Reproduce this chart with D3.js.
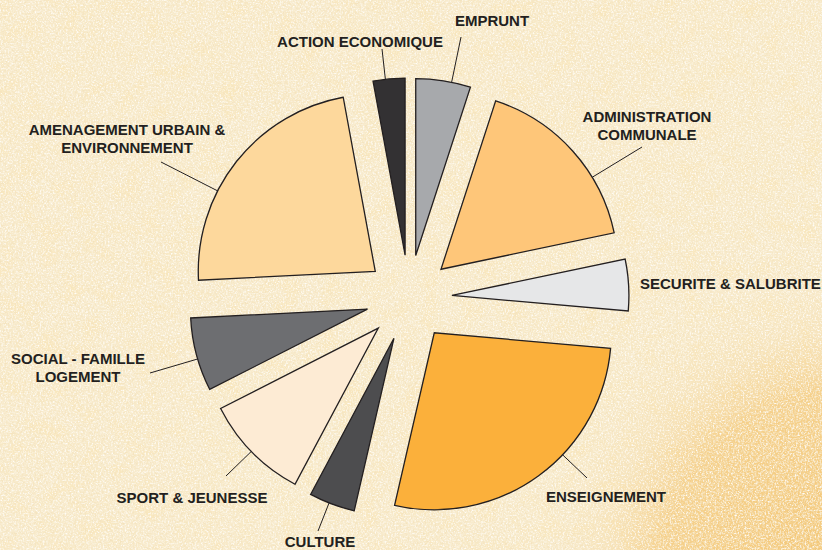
<!DOCTYPE html>
<html>
<head>
<meta charset="utf-8">
<script src="https://cdn.jsdelivr.net/npm/d3@7"></script>
<style>
    body { margin: 0; background: #f7e9c9; }
    #chart { width: 822px; height: 550px; }
</style>
</head>
<body>
<div id="chart"></div>
<script>
// repartition des depenses (en %)
const categories = ["EMPRUNT", "ADMINISTRATION COMMUNALE", "SECURITE & SALUBRITE", "ENSEIGNEMENT",
    "CULTURE", "SPORT & JEUNESSE", "SOCIAL - FAMILLE LOGEMENT", "AMENAGEMENT URBAIN & ENVIRONNEMENT",
    "ACTION ECONOMIQUE"];
const values = [5.0, 16.7, 4.7, 27.2, 4.2, 9.7, 6.7, 22.9, 2.9];
const label_lines = [["EMPRUNT"], ["ADMINISTRATION", "COMMUNALE"], ["SECURITE & SALUBRITE"], ["ENSEIGNEMENT"],
    ["CULTURE"], ["SPORT & JEUNESSE"], ["SOCIAL - FAMILLE", "LOGEMENT"], ["AMENAGEMENT URBAIN &", "ENVIRONNEMENT"],
    ["ACTION ECONOMIQUE"]];

const colors = ["#a7a9ac", "#fec679", "#e6e7e8", "#fbb03b", "#4d4d4f", "#fdebd4", "#6d6e71", "#fdd89c", "#333133"];

// placement des etiquettes : x, y (ligne de base), ancre, debut du trait
const label_layout = [
    { x: 492, y: 26, anchor: "middle", lead: [461, 37] },
    { x: 647, y: 122, anchor: "middle", lead: [642, 147] },
    { x: 640, y: 289, anchor: "start", lead: null },
    { x: 606, y: 502, anchor: "middle", lead: [587, 478] },
    { x: 320, y: 547, anchor: "middle", lead: [318, 531] },
    { x: 192, y: 503, anchor: "middle", lead: [226, 476] },
    { x: 78, y: 364, anchor: "middle", lead: [150, 373] },
    { x: 127, y: 135, anchor: "middle", lead: [161, 162] },
    { x: 360, y: 47, anchor: "middle", lead: [382, 49] }
];

let width = 822, height = 550,
    cx = 409, cy = 298,
    radius = 177,
    explode = 43,
    line_h = 18

let svg = d3.select("#chart")
    .append("svg")
    .attr("width", width)
    .attr("height", height)

let defs = svg.append("defs")

// fond papier : taches larges + grain fin
function noise_filter(id, freq, octaves, seed, matrix) {
    let f = defs.append("filter")
        .attr("id", id)
        .attr("x", 0).attr("y", 0)
        .attr("width", "100%").attr("height", "100%")
    f.append("feTurbulence")
        .attr("type", "fractalNoise")
        .attr("baseFrequency", freq)
        .attr("numOctaves", octaves)
        .attr("seed", seed)
    f.append("feColorMatrix")
        .attr("type", "matrix")
        .attr("values", matrix)
}
noise_filter("blotch", 0.05, 3, 11, "0 0 0 0 0.95  0 0 0 0 0.80  0 0 0 0 0.50  2.0 0 0 0 -0.85")
noise_filter("grain", 0.4, 3, 7, "0 0 0 0 0.90  0 0 0 0 0.76  0 0 0 0 0.50  2.4 0 0 0 -1.05")
noise_filter("grain2", 0.6, 2, 3, "0 0 0 0 1  0 0 0 0 0.98  0 0 0 0 0.93  2.6 0 0 0 -1.2")

let warm = defs.append("radialGradient")
    .attr("id", "warm")
    .attr("gradientUnits", "userSpaceOnUse")
    .attr("cx", 860).attr("cy", 590).attr("r", 330)
warm.append("stop").attr("offset", "0%").attr("stop-color", "#f2c067").attr("stop-opacity", 0.9)
warm.append("stop").attr("offset", "62%").attr("stop-color", "#f4c878").attr("stop-opacity", 0.75)
warm.append("stop").attr("offset", "80%").attr("stop-color", "#f6d699").attr("stop-opacity", 0.25)
warm.append("stop").attr("offset", "100%").attr("stop-color", "#f7e9c9").attr("stop-opacity", 0)

svg.append("rect").attr("width", width).attr("height", height).attr("fill", "#f8ebcd")
svg.append("rect").attr("width", width).attr("height", height).attr("filter", "url(#blotch)")
svg.append("rect").attr("width", width).attr("height", height).attr("fill", "url(#warm)")
svg.append("rect").attr("width", width).attr("height", height).attr("filter", "url(#grain)")
svg.append("rect").attr("width", width).attr("height", height).attr("filter", "url(#grain2)")

// camembert eclate
let pie = d3.pie().sort(null).value(d => d)
let arcs = pie(values)
let arc = d3.arc().innerRadius(0).outerRadius(radius)

function offset(d) {
    let mid = (d.startAngle + d.endAngle) / 2
    return [cx + Math.sin(mid) * explode, cy - Math.cos(mid) * explode]
}

svg.append("g")
    .selectAll("path")
    .data(arcs)
    .enter()
    .append("path")
    .attr("transform", d => "translate(" + offset(d)[0] + "," + offset(d)[1] + ")")
    .attr("d", arc)
    .attr("fill", (d, i) => colors[i])
    .attr("stroke", "#231f20")
    .attr("stroke-width", 1.3)
    .attr("stroke-linejoin", "miter")

// traits de rappel
svg.append("g")
    .selectAll("line")
    .data(arcs.filter((d, i) => label_layout[i].lead))
    .enter()
    .append("line")
    .each(function (d) {
        let i = d.index
        let o = offset(d)
        let lead = label_layout[i].lead
        let a = Math.atan2(lead[0] - o[0], -(lead[1] - o[1]))
        d3.select(this)
            .attr("x1", lead[0])
            .attr("y1", lead[1])
            .attr("x2", o[0] + Math.sin(a) * radius)
            .attr("y2", o[1] - Math.cos(a) * radius)
    })
    .attr("stroke", "#231f20")
    .attr("stroke-width", 1)

// etiquettes
let labels = svg.append("g")
    .style("font-family", "'Liberation Sans', Arial, Helvetica, sans-serif")
    .style("font-weight", "bold")
    .style("font-size", "15px")
    .attr("fill", "#231f20")
    .selectAll("text")
    .data(categories)
    .enter()
    .append("text")
    .attr("x", (d, i) => label_layout[i].x)
    .attr("y", (d, i) => label_layout[i].y)
    .attr("text-anchor", (d, i) => label_layout[i].anchor)

labels.selectAll("tspan")
    .data((d, i) => label_lines[i].map(t => ({ t: t, i: i })))
    .enter()
    .append("tspan")
    .attr("x", d => label_layout[d.i].x)
    .attr("dy", (d, j) => j == 0 ? 0 : line_h)
    .text(d => d.t)
</script>
</body>
</html>
